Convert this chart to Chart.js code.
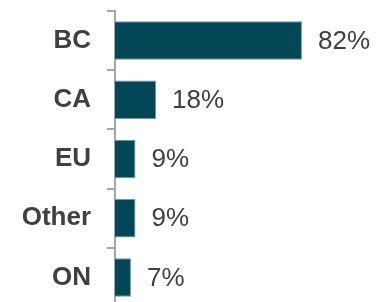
<!DOCTYPE html>
<html>
<head>
<meta charset="utf-8">
<script src="https://cdn.jsdelivr.net/npm/chart.js@4"></script>
<style>
  html, body { margin: 0; padding: 0; background: #fff; overflow: hidden; }
  canvas { display: block; }
</style>
</head>
<body>
<canvas id="myChart" width="376" height="307"></canvas>
<script>
const regions = ["BC", "CA", "EU", "Other", "ON"];
const shares = [82, 18, 9, 9, 7];

const textColor = "#404040";
const axisColor = "#a6a6a6";
const fontFamily = "'Liberation Sans', Arial, sans-serif";

// draws the "82%" style labels after each bar
const valueLabels = {
  id: "valueLabels",
  afterDatasetsDraw(chart) {
    const ctx = chart.ctx;
    const meta = chart.getDatasetMeta(0);
    ctx.save();
    ctx.font = "26px " + fontFamily;
    ctx.fillStyle = textColor;
    ctx.textAlign = "left";
    ctx.textBaseline = "middle";
    meta.data.forEach((bar, i) => {
      ctx.fillText(shares[i] + "%", bar.x + 16, bar.y + 1);
    });
    ctx.restore();
  },
};

const ctx = document.getElementById("myChart").getContext("2d");
const myChart = new Chart(ctx, {
  type: "bar",
  plugins: [valueLabels],
  data: {
    labels: regions,
    datasets: [
      {
        data: shares,
        backgroundColor: "#034656",
        borderColor: "#6a98a3",
        borderWidth: 1,
        barPercentage: 0.65,
        categoryPercentage: 1,
      },
    ],
  },
  options: {
    indexAxis: "y",
    responsive: false,
    animation: false,
    layout: { padding: { top: 11, right: 33, bottom: 0, left: 0 } },
    plugins: {
      legend: { display: false },
      tooltip: { enabled: false },
    },
    scales: {
      x: {
        display: false,
        min: 0,
        max: 100,
      },
      y: {
        afterFit(scale) {
          scale.width = 115;
          scale.paddingTop = 0;
          scale.paddingBottom = 0;
        },
        grid: {
          offset: true,
          drawOnChartArea: false,
          drawTicks: true,
          tickLength: 8,
          color: axisColor,
          lineWidth: 2,
        },
        border: { display: true, color: axisColor, width: 2 },
        ticks: {
          padding: 16,
          color: textColor,
          font: { family: fontFamily, size: 26, weight: "bold" },
        },
      },
    },
  },
});
</script>
</body>
</html>
